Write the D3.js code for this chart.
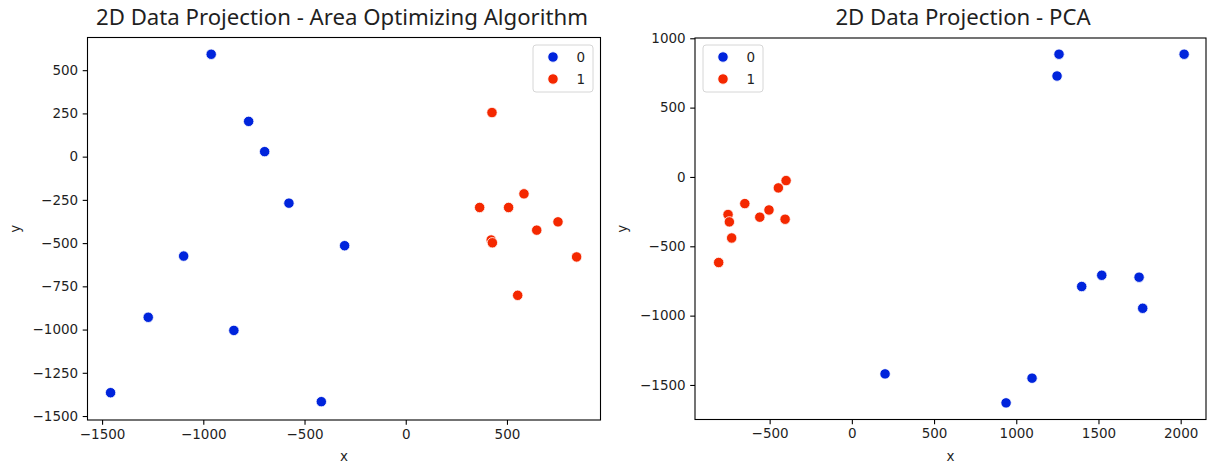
<!DOCTYPE html>
<html>
<head>
<meta charset="utf-8">
<script src="https://cdn.jsdelivr.net/npm/d3@7"></script>
<style>
  html, body { margin: 0; padding: 0; background: #fff; }
  svg { display: block; }
  .tick text { font-family: "DejaVu Sans", sans-serif; font-size: 13.5px; fill: #1f1f1f; }
  .lbl { font-family: "DejaVu Sans", sans-serif; font-size: 13.5px; fill: #1f1f1f; }
  .ttl { font-family: "Noto Sans", sans-serif; font-size: 22.2px; fill: #1f1f1f; }
</style>
</head>
<body>
<svg id="fig" width="1207" height="465"></svg>
<script>
// Class labels for the legend
const classes = ["0", "1"];
const classColors = ["#0024dc", "#f42800"];

// Area optimizing projection — class 0
const aoX0 = [-961, -776, -697, -577, -302, -1097, -1272, -849, -1458, -417];
const aoY0 = [592, 204, 29, -269, -515, -575, -929, -1005, -1365, -1417];
// Area optimizing projection — class 1
const aoX1 = [426, 365, 508, 584, 752, 647, 422, 428, 844, 553];
const aoY1 = [255, -294, -294, -215, -377, -425, -482, -498, -580, -802];

// PCA projection — class 0
const pcaX0 = [1260, 1248, 2021, 1520, 1398, 1747, 1769, 202, 1096, 938];
const pcaY0 = [885, 728, 885, -709, -790, -723, -947, -1420, -1451, -1629];
// PCA projection — class 1
const pcaX1 = [-810, -753, -745, -731, -651, -560, -504, -447, -400, -406];
const pcaY1 = [-617, -271, -324, -440, -192, -290, -238, -79, -26, -305];

// Axis ticks
const aoXTicks = [-1500, -1000, -500, 0, 500];
const aoYTicks = [-1500, -1250, -1000, -750, -500, -250, 0, 250, 500];
const pcaXTicks = [-500, 0, 500, 1000, 1500, 2000];
const pcaYTicks = [-1500, -1000, -500, 0, 500, 1000];

const svg = d3.select("#fig");
const fmt = v => (v < 0 ? "\u2212" + Math.abs(v) : String(v));

function panel(cfg) {
  const x = d3.scaleLinear().domain(cfg.xDomain).range([cfg.left, cfg.right]);
  const y = d3.scaleLinear().domain(cfg.yDomain).range([cfg.bottom, cfg.top]);
  const g = svg.append("g");

  // axes
  const xa = g.append("g").attr("transform", `translate(0,${cfg.bottom})`)
    .call(d3.axisBottom(x).tickValues(cfg.xTicks).tickFormat(fmt).tickSize(4.8).tickPadding(4.5));
  const ya = g.append("g").attr("transform", `translate(${cfg.left},0)`)
    .call(d3.axisLeft(y).tickValues(cfg.yTicks).tickFormat(fmt).tickSize(4.8).tickPadding(4.5));
  [xa, ya].forEach(a => {
    a.select(".domain").remove();
    a.selectAll(".tick line").attr("stroke", "#000").attr("stroke-width", 1.1);
  });

  // frame
  g.append("rect")
    .attr("x", cfg.left).attr("y", cfg.top)
    .attr("width", cfg.right - cfg.left).attr("height", cfg.bottom - cfg.top)
    .attr("fill", "none").attr("stroke", "#000").attr("stroke-width", 1.1);

  // points
  const series = [
    { xs: cfg.x0, ys: cfg.y0, c: classColors[0] },
    { xs: cfg.x1, ys: cfg.y1, c: classColors[1] }
  ];
  series.forEach(s => {
    g.append("g").selectAll("circle")
      .data(d3.zip(s.xs, s.ys))
      .join("circle")
      .attr("cx", d => x(d[0]))
      .attr("cy", d => y(d[1]))
      .attr("r", 5.2)
      .attr("fill", s.c)
      .attr("stroke", "#fff")
      .attr("stroke-width", 0.8);
  });

  // legend
  const lg = g.append("g").attr("transform", `translate(${cfg.legX},${cfg.legY})`);
  lg.append("rect").attr("x", 0).attr("y", 0).attr("width", 60).attr("height", 47)
    .attr("rx", 3).attr("fill", "#fff").attr("fill-opacity", 0.8)
    .attr("stroke", "#d6d6d6").attr("stroke-width", 1);
  classes.forEach((c, i) => {
    lg.append("circle").attr("cx", 20).attr("cy", 12 + i * 22).attr("r", 5.2)
      .attr("fill", classColors[i]).attr("stroke", "#fff").attr("stroke-width", 0.8);
    lg.append("text").attr("class", "lbl").attr("x", 52).attr("y", 12 + i * 22)
      .attr("dy", "0.36em").attr("text-anchor", "end").text(c);
  });

  // titles and axis labels
  g.append("text").attr("class", "ttl").attr("x", cfg.titleX).attr("y", 25)
    .attr("text-anchor", "middle").text(cfg.title);
  g.append("text").attr("class", "lbl").attr("x", (cfg.left + cfg.right) / 2).attr("y", 461)
    .attr("text-anchor", "middle").text("x");
  g.append("text").attr("class", "lbl")
    .attr("transform", `translate(${cfg.yLabelX},${(cfg.top + cfg.bottom) / 2}) rotate(-90)`)
    .attr("text-anchor", "middle").text("y");
}

panel({
  title: "2D Data Projection - Area Optimizing Algorithm", titleX: 342,
  left: 87.5, right: 600.5, top: 37.5, bottom: 420,
  xDomain: [-1572, 962], yDomain: [-1523, 689],
  xTicks: aoXTicks, yTicks: aoYTicks,
  x0: aoX0, y0: aoY0, x1: aoX1, y1: aoY1,
  legX: 533, legY: 45, yLabelX: 20
});

panel({
  title: "2D Data Projection - PCA", titleX: 963,
  left: 695, right: 1206, top: 38, bottom: 419.5,
  xDomain: [-954, 2154], yDomain: [-1749, 1002],
  xTicks: pcaXTicks, yTicks: pcaYTicks,
  x0: pcaX0, y0: pcaY0, x1: pcaX1, y1: pcaY1,
  legX: 703, legY: 45, yLabelX: 627
});
</script>
</body>
</html>
